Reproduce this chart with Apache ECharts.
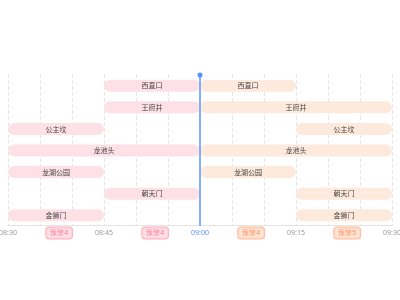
<!DOCTYPE html>
<html><head><meta charset="utf-8">
<script src="https://cdn.jsdelivr.net/npm/echarts@6/dist/echarts.min.js"></script>
<style>html,body{margin:0;padding:0;background:#fff}#c{width:400px;height:300px}</style>
</head><body><div id="c"></div>
<script>
var stations = ['西直口','王府井','公主坟','龙池头','龙湖公园','朝天门','金狮门'];
var pastStart = ['08:45','08:45','08:30','08:30','08:30','08:45','08:30'];
var pastEnd   = ['09:00','09:00','08:45','09:00','08:45','09:00','08:45'];
var futStart  = ['09:00','09:00','09:15','09:00','09:00','09:15','09:15'];
var futEnd    = ['09:15','09:30','09:30','09:30','09:15','09:30','09:30'];
var nowTime = '09:00';
var alertTimes = ['08:38','08:53','09:08','09:23'];
var alertLabels = ['预警4','预警4','预警4','预警5'];
var alertLevel = ['past','past','future','future'];
var axisMin = '08:30', axisMax = '09:30';

function toMin(s){var p=s.split(':');return (+p[0])*60+(+p[1]);}
function fmt(v){var h=Math.floor(v/60),m=v%60;return (h<10?'0':'')+h+':'+(m<10?'0':'')+m;}
var nowMin = toMin(nowTime);

var pastData = stations.map(function(s,i){return [toMin(pastStart[i]),toMin(pastEnd[i]),i];});
var futData = stations.map(function(s,i){return [toMin(futStart[i]),toMin(futEnd[i]),i];});

function makeRender(fill){
  return function(params, api){
    var a = api.coord([api.value(0), api.value(2)]);
    var b = api.coord([api.value(1), api.value(2)]);
    var h = 12;
    return {
      type:'rect',
      shape:{x:a[0], y:a[1]-h/2+1, width:b[0]-a[0], height:h, r:6},
      style:{fill:fill},
      textContent:{style:{text:stations[api.value(2)], fill:'#444', fontSize:7, fontFamily:'Noto Sans CJK SC'}},
      textConfig:{position:'inside'}
    };
  };
}

function renderNow(params, api){
  var cs = params.coordSys;
  var x = api.coord([api.value(0), 0])[0];
  return {type:'group', children:[
    {type:'line', shape:{x1:x,y1:cs.y,x2:x,y2:cs.y+cs.height+1}, style:{stroke:'#82aefc',lineWidth:2}},
    {type:'circle', shape:{cx:x,cy:cs.y+1,r:2.5}, style:{fill:'#5b8ff9'}}
  ]};
}

var chart = echarts.init(document.getElementById('c'), null, {renderer:'canvas'});
chart.setOption({
  animation:false,
  grid:[{left:8,right:8,top:74,height:151,containLabel:false,outerBoundsMode:'none'},
        {left:8,right:8,top:227,height:12,containLabel:false,outerBoundsMode:'none'}],
  xAxis:[{
    type:'value', gridIndex:0, min:toMin(axisMin), max:toMin(axisMax), interval:5,
    axisLine:{show:true,onZero:false,lineStyle:{color:'#e3e3e3'}},
    axisTick:{show:false},
    splitLine:{show:true,lineStyle:{color:'#e6e6e6',type:'dashed'}},
    axisLabel:{fontSize:7,color:'#999',margin:4,fontFamily:'Noto Sans',
      formatter:function(v){ if(v%15!==0) return ''; return v===nowMin ? '{n|'+fmt(v)+'}' : fmt(v);},
      rich:{n:{color:'#5b8ff9',fontSize:7}}, showMinLabel:true, showMaxLabel:true}
  },{
    type:'value', gridIndex:1, min:toMin(axisMin), max:toMin(axisMax), show:false
  }],
  yAxis:[{
    type:'value', gridIndex:0, min:-0.5, max:6.5, inverse:true, show:false
  },{
    type:'value', gridIndex:1, min:0, max:1, show:false
  }],
  series:[{
    type:'custom', xAxisIndex:0, yAxisIndex:0, renderItem:makeRender('#fde1e6'),
    encode:{x:[0,1],y:2}, data:pastData
  },{
    type:'custom', xAxisIndex:0, yAxisIndex:0, renderItem:makeRender('#fdeadd'),
    encode:{x:[0,1],y:2}, data:futData
  },{
    type:'custom', xAxisIndex:0, yAxisIndex:0, renderItem:renderNow, clip:false,
    encode:{x:0}, data:[[nowMin]], z:5
  },{
    type:'scatter', xAxisIndex:1, yAxisIndex:1, symbolSize:0,
    data:alertTimes.map(function(t,i){
      var past = alertLevel[i]==='past';
      return {value:[toMin(t),0.5], label:{show:true, formatter:alertLabels[i], position:'inside',
        fontSize:7, color: past?'#f2597c':'#fb7a3c',
        backgroundColor: past?'#ffd9e1':'#ffdfcc', borderColor: past?'#ff9cb0':'#ffae86',
        borderWidth:1, borderRadius:3, padding:[2,4]}};
    })
  }]
});
</script></body></html>
